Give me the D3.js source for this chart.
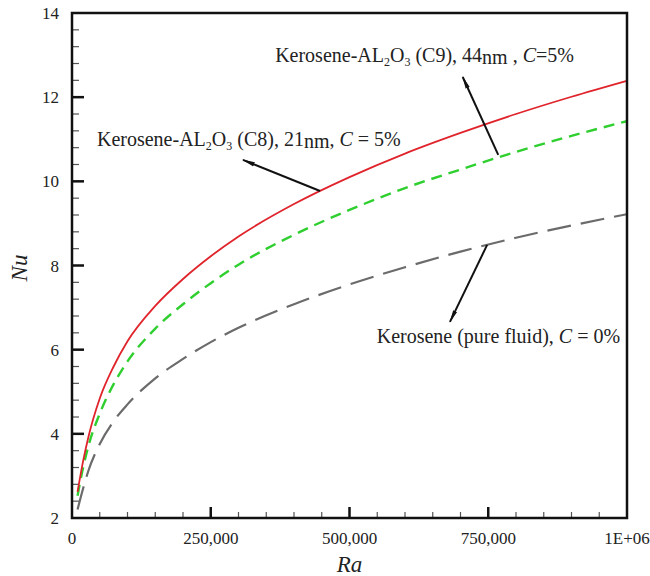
<!DOCTYPE html>
<html>
<head>
<meta charset="utf-8">
<script src="https://cdn.jsdelivr.net/npm/d3@7"></script>
<style>
  body { margin: 0; background: #fff; }
</style>
</head>
<body>
<svg id="chart" width="650" height="576" font-family="'Liberation Serif', 'Times New Roman', Times, serif"></svg>
<script>
// Rayleigh number samples
const raValues = [10000, 20000, 30000, 50000, 75000, 100000, 150000, 200000, 250000, 300000,
                  400000, 500000, 600000, 700000, 800000, 900000, 1000000];
// Nu
const nuC9 = [2.62, 3.35, 3.95, 4.84, 5.60, 6.20, 7.04, 7.68, 8.22, 8.69, 9.46, 10.10, 10.66, 11.15, 11.60, 12.01, 12.39];
const nuC8 = [2.53, 3.20, 3.73, 4.48, 5.18, 5.72, 6.50, 7.08, 7.58, 8.02, 8.73, 9.32, 9.84, 10.28, 10.70, 11.08, 11.43];
const nuPure = [2.2, 2.70, 3.14, 3.76, 4.30, 4.70, 5.32, 5.78, 6.18, 6.52, 7.08, 7.55, 7.96, 8.33, 8.66, 8.95, 9.22];

const xTicks = [0, 250000, 500000, 750000, 1000000];
const xTickLabels = ["0", "250,000", "500,000", "750,000", "1E+06"];
const yTicks = [2, 4, 6, 8, 10, 12, 14];

const margin = { left: 72, right: 23, top: 13, bottom: 58 };
const width = 650, height = 576;

let svg = d3.select("#chart");

let x = d3.scaleLinear().domain([0, 1000000]).range([margin.left, width - margin.right]);
let y = d3.scaleLinear().domain([2, 14]).range([height - margin.bottom, margin.top]);

// arrow marker
svg.append("defs").append("marker")
    .attr("id", "arrow")
    .attr("viewBox", "0 0 13 6")
    .attr("refX", 12).attr("refY", 3)
    .attr("markerWidth", 13).attr("markerHeight", 6)
    .attr("markerUnits", "userSpaceOnUse")
    .attr("orient", "auto")
    .append("path")
    .attr("d", "M0,0.8 L13,3 L0,5.2 Z")
    .attr("fill", "#111");

// minor ticks
let xMinor = d3.range(50000, 1000000, 50000).filter(d => d % 250000 != 0);
let yMinor = d3.range(2.4, 14, 0.4).filter(d => Math.abs(d / 2 - Math.round(d / 2)) > 0.01);

svg.append("g").selectAll("line").data(xMinor).join("line")
    .attr("x1", d => x(d)).attr("x2", d => x(d))
    .attr("y1", y(2)).attr("y2", y(2) - 6)
    .attr("stroke", "#555").attr("stroke-width", 1.2);
svg.append("g").selectAll("line").data(yMinor).join("line")
    .attr("x1", x(0)).attr("x2", x(0) + 7)
    .attr("y1", d => y(d)).attr("y2", d => y(d))
    .attr("stroke", "#555").attr("stroke-width", 1.2);

// major ticks
svg.append("g").selectAll("line").data(xTicks.slice(1, -1)).join("line")
    .attr("x1", d => x(d)).attr("x2", d => x(d))
    .attr("y1", y(2)).attr("y2", y(2) - 11)
    .attr("stroke", "#111").attr("stroke-width", 2.5);
svg.append("g").selectAll("line").data(yTicks.slice(1, -1)).join("line")
    .attr("x1", x(0)).attr("x2", x(0) + 12)
    .attr("y1", d => y(d)).attr("y2", d => y(d))
    .attr("stroke", "#111").attr("stroke-width", 2.5);

// tick labels
svg.append("g").selectAll("text").data(xTicks).join("text")
    .attr("x", d => x(d)).attr("y", y(2) + 26)
    .attr("text-anchor", "middle")
    .attr("fill", "#222")
    .style("font-size", "17px")
    .text((d, i) => xTickLabels[i]);
svg.append("g").selectAll("text").data(yTicks).join("text")
    .attr("x", x(0) - 13).attr("y", d => y(d) + 6)
    .attr("text-anchor", "end")
    .attr("fill", "#222")
    .style("font-size", "17px")
    .text(d => d);

// axis titles
svg.append("text")
    .attr("x", (x(0) + x(1000000)) / 2).attr("y", 572)
    .attr("text-anchor", "middle")
    .attr("fill", "#222")
    .style("font-size", "23px").style("font-style", "italic")
    .text("Ra");
svg.append("text")
    .attr("transform", "translate(27," + 268 + ") rotate(-90)")
    .attr("text-anchor", "middle")
    .attr("fill", "#222")
    .style("font-size", "23px").style("font-style", "italic")
    .text("Nu");

// curves
let line = d3.line()
    .x((d, i) => x(raValues[i]))
    .y(d => y(d))
    .curve(d3.curveMonotoneX);

let series = [
    { values: nuPure, color: "#6b6b6b", dash: "24,10", w: 2.2 },
    { values: nuC8, color: "#2fcf2f", dash: "11,7", w: 2.4 },
    { values: nuC9, color: "#e0242c", dash: null, w: 1.8 }
];

svg.append("g").selectAll("path").data(series).join("path")
    .attr("d", d => line(d.values))
    .attr("fill", "none")
    .attr("stroke", d => d.color)
    .attr("stroke-width", d => d.w)
    .attr("stroke-dasharray", d => d.dash);

// frame
svg.append("rect")
    .attr("x", x(0)).attr("y", y(14))
    .attr("width", x(1000000) - x(0)).attr("height", y(2) - y(14))
    .attr("fill", "none").attr("stroke", "#111").attr("stroke-width", 2.5);

// annotation arrows (data coords)
let arrows = [
    { from: [768000, 10.63], to: [704000, 12.48] },
    { from: [447000, 9.77], to: [308000, 10.51] },
    { from: [748000, 8.49], to: [681000, 6.66] }
];
svg.append("g").selectAll("line").data(arrows).join("line")
    .attr("x1", d => x(d.from[0])).attr("y1", d => y(d.from[1]))
    .attr("x2", d => x(d.to[0])).attr("y2", d => y(d.to[1]))
    .attr("stroke", "#111").attr("stroke-width", 2)
    .attr("marker-end", "url(#arrow)");

// annotation labels
function label(ra, nu, parts) {
    let t = svg.append("text")
        .attr("x", x(ra)).attr("y", y(nu))
        .attr("fill", "#222")
        .style("font-size", "20px");
    parts.forEach(p => {
        let s = t.append("tspan").text(p.t);
        if (p.sub) s.attr("dy", 4).style("font-size", "12px");
        if (p.up) s.attr("dy", -4);
        if (p.nm) s.attr("dy", 2);
        if (p.nmUp) s.attr("dy", -2);
        if (p.it) s.style("font-style", "italic");
    });
}

label(366000, 12.83, [
    { t: "Kerosene-AL" }, { t: "2", sub: true }, { t: "O", up: true }, { t: "3", sub: true },
    { t: " (C9), 44", up: true }, { t: "nm", nm: true }, { t: " , ", nmUp: true }, { t: "C", it: true }, { t: "=5%" }
]);
label(45000, 10.84, [
    { t: "Kerosene-AL" }, { t: "2", sub: true }, { t: "O", up: true }, { t: "3", sub: true },
    { t: " (C8), 21", up: true }, { t: "nm", nm: true }, { t: ", ", nmUp: true }, { t: "C", it: true }, { t: " = 5%" }
]);
label(549000, 6.15, [
    { t: "Kerosene (pure fluid), " }, { t: "C", it: true }, { t: " = 0%" }
]);
</script>
</body>
</html>
